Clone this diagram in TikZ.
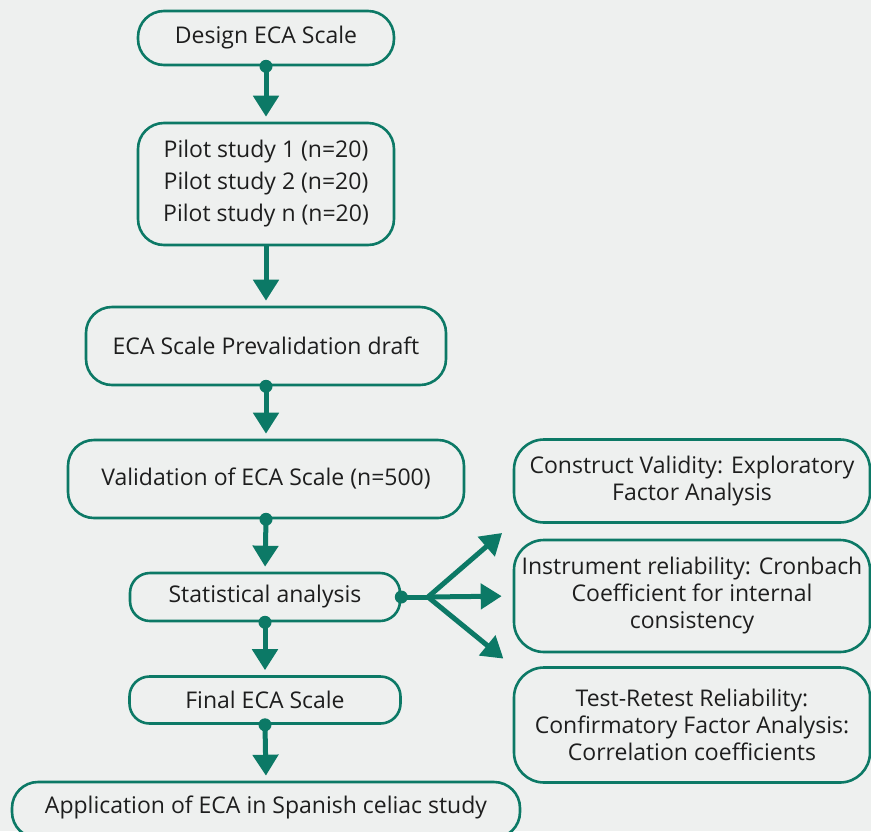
\documentclass[tikz,border=0pt]{standalone}
\usepackage{fontspec}
\setmainfont{Open Sans}
\usepackage{tikz}
\usetikzlibrary{arrows.meta, positioning}
\definecolor{myteal}{RGB}{12,121,102}
\definecolor{mybg}{RGB}{238,240,239}
\definecolor{mytext}{RGB}{30,30,30}
\tikzset{
  box/.style={rectangle, draw=myteal, fill=mybg, line width=2.6pt,
    rounded corners=26pt, align=center, text=mytext,
    font=\fontsize{23}{32}\selectfont, inner sep=0pt},
  sidebox/.style={box, font=\fontsize{23}{27}\selectfont},
  flow/.style={-{Triangle[width=25pt,length=21pt]}, line width=5pt,
    color=myteal, shorten >=5pt},
  line/.style={line width=5pt, color=myteal},
  dot/.style={fill=myteal}
}
\begin{document}
\begin{tikzpicture}[x=1pt, y=-1pt]
  % background
  \fill[mybg] (0,0) rectangle (871,831);
  \useasboundingbox (0,0) rectangle (871,831);

  % main column
  \node[box, minimum width=256pt, minimum height=54pt] (design) at (266,38) {Design ECA Scale};
  \node[box, minimum width=256pt, minimum height=122pt] (pilot) at (266,184)
    {Pilot study 1 (n=20)\\ Pilot study 2 (n=20)\\ Pilot study n (n=20)};
  \node[box, minimum width=360pt, minimum height=78pt] (draft) at (266,346) {ECA Scale Prevalidation draft};
  \node[box, minimum width=396pt, minimum height=78pt] (valid) at (266,479) {Validation of ECA Scale (n=500)};
  \node[box, minimum width=270pt, minimum height=48pt, rounded corners=20pt] (stats) at (265,597) {Statistical analysis};
  \node[box, minimum width=271pt, minimum height=47pt, rounded corners=20pt] (final) at (265,700) {Final ECA Scale};
  \node[box, minimum width=508pt, minimum height=56pt] (apply) at (266,810) {};
  \node[text=mytext, font=\fontsize{23}{32}\selectfont] (applytxt) at (266,807) {Application of ECA in Spanish celiac study};

  % side column
  \node[sidebox, minimum width=356pt, minimum height=83pt, rounded corners=30pt] (construct) at (692,481)
    {Construct Validity: Exploratory\\ Factor Analysis};
  \node[sidebox, minimum width=356pt, minimum height=112pt, rounded corners=30pt] (reliab) at (692,596)
    {Instrument reliability: Cronbach\\ Coefficient for internal\\ consistency};
  \node[sidebox, minimum width=356pt, minimum height=115pt, rounded corners=30pt] (retest) at (692,725)
    {Test-Retest Reliability:\\ Confirmatory Factor Analysis:\\ Correlation coefficients};

  % arrows down
  \draw[flow] (design.south) -- (pilot.north);
  \draw[flow] (pilot.south) -- (draft.north);
  \draw[flow] (draft.south) -- (valid.north);
  \draw[flow] (valid.south) -- (stats.north);
  \draw[flow] (stats.south) -- (final.north);
  \draw[flow] (final.south) -- (apply.north);

  % fork to the right
  \coordinate (fork) at (428,597);
  \draw[line] (stats.east) -- (fork);
  \draw[flow, shorten >=14pt] (fork) -- (construct.south west);
  \draw[flow, shorten >=11pt] (fork) -- (reliab.west);
  \draw[flow, shorten >=12pt] (fork) -- (retest.north west);

  % dots
  \foreach \n in {design, draft, valid, stats, final} {
    \fill[dot] (\n.south) circle (6.5pt);
  }
  \fill[dot] (stats.east) circle (6.5pt);
\end{tikzpicture}
\end{document}
